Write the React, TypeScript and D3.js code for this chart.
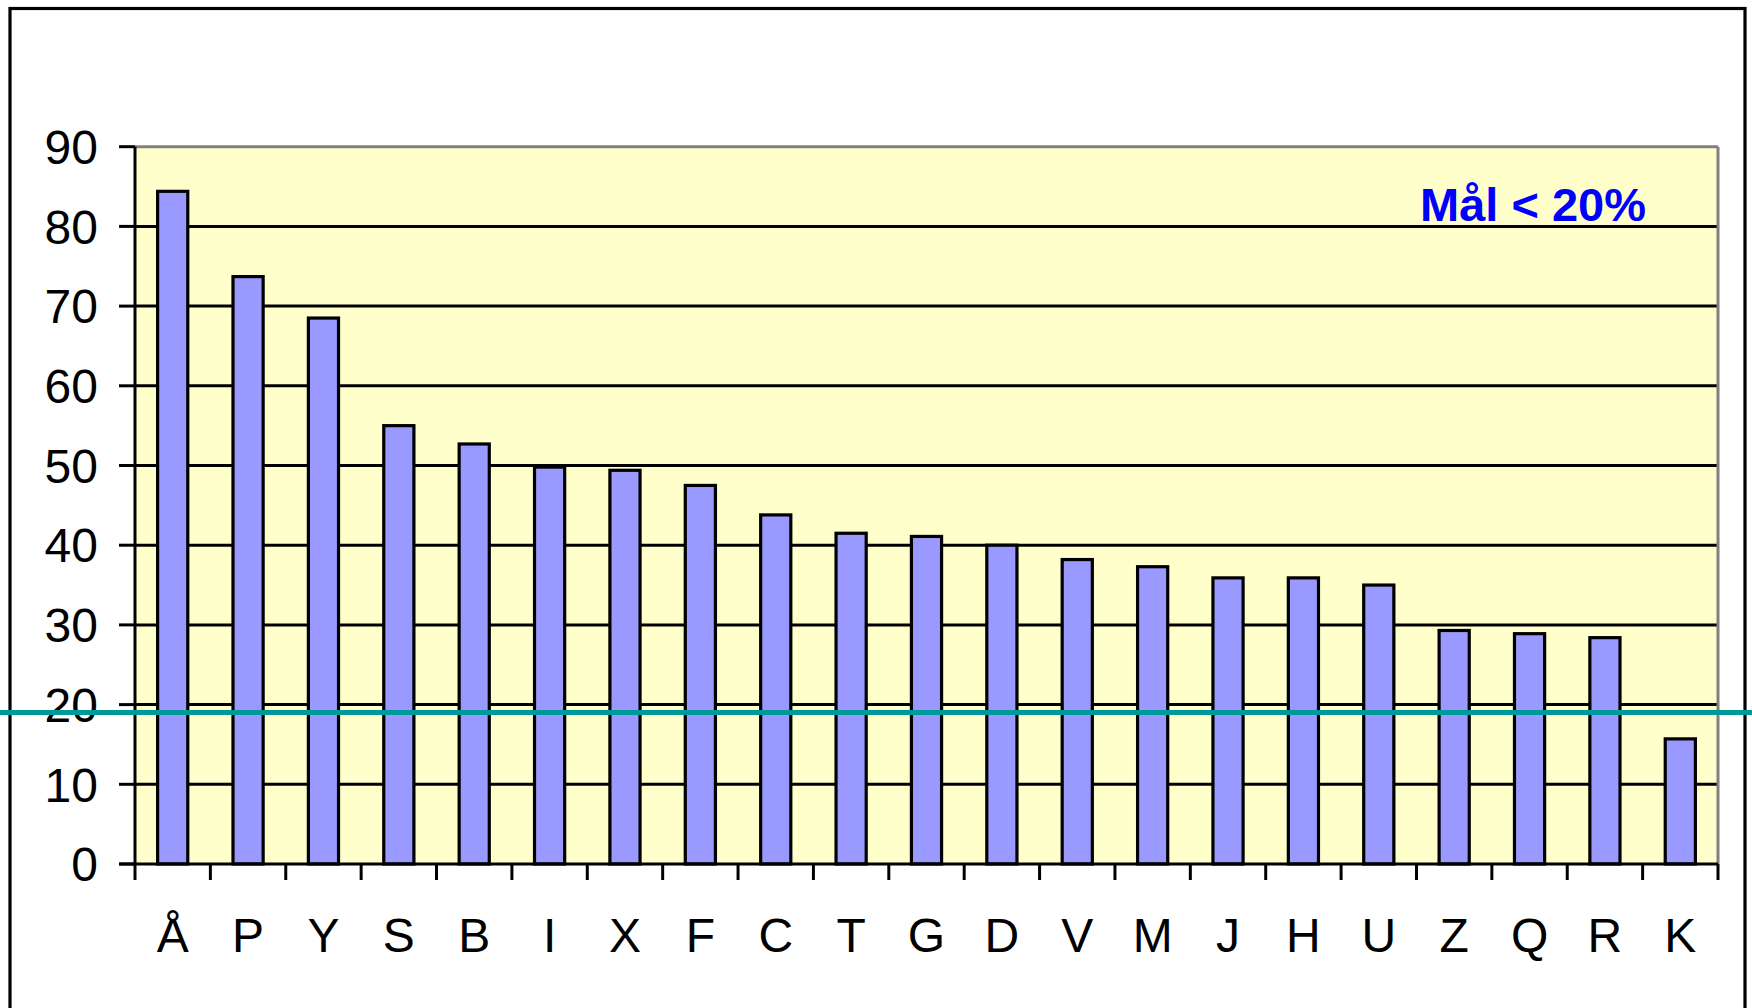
import React from 'react';
import * as d3 from 'd3';

// one value per unit, sorted high to low
const categories = ['Å', 'P', 'Y', 'S', 'B', 'I', 'X', 'F', 'C', 'T', 'G', 'D', 'V', 'M', 'J', 'H', 'U', 'Z', 'Q', 'R', 'K'];
const values = [84.4, 73.7, 68.5, 55.0, 52.7, 49.8, 49.4, 47.5, 43.8, 41.5, 41.1, 40.0, 38.2, 37.3, 35.9, 35.9, 35.0, 29.3, 28.9, 28.4, 15.7];
const yTicks = [0, 10, 20, 30, 40, 50, 60, 70, 80, 90];
const targetValue = 19;
const targetLabel = 'Mål < 20%';

const W = 1752;
const H = 1008;
const plot = { left: 135, right: 1718, top: 146.7, bottom: 864 };
const font = 'Arial, "Liberation Sans", Helvetica, sans-serif';

const App: React.FC = () => {
  const x = d3.scaleBand<string>()
    .domain(categories)
    .range([plot.left, plot.right])
    .paddingInner(0.6)
    .paddingOuter(0.3);

  const y = d3.scaleLinear()
    .domain([0, 90])
    .range([plot.bottom, plot.top]);

  const step = x.step();
  const edges = d3.range(categories.length + 1).map(i => plot.left + i * step);

  return (
    <svg width={W} height={H} style={{ position: 'absolute', left: 0, top: 0, background: '#fff' }}>
      {/* outer frame */}
      <rect x={10} y={8.5} width={1735} height={1020} fill="#fff" stroke="#000" strokeWidth={3.2} />

      {/* plot area */}
      <rect x={plot.left} y={plot.top} width={plot.right - plot.left} height={plot.bottom - plot.top} fill="#FFFFCC" />

      {/* gridlines */}
      {yTicks.filter(t => t > 0 && t < 90).map(t => (
        <line key={t} x1={plot.left} x2={plot.right} y1={y(t)} y2={y(t)} stroke="#000" strokeWidth={3} />
      ))}
      <line x1={plot.left} x2={plot.right} y1={y(90)} y2={y(90)} stroke="#808080" strokeWidth={3} />
      <line x1={plot.right} x2={plot.right} y1={plot.top} y2={plot.bottom} stroke="#808080" strokeWidth={3} />

      {/* bars */}
      {categories.map((c, i) => (
        <rect
          key={c}
          x={x(c)}
          y={y(values[i])}
          width={x.bandwidth()}
          height={y(0) - y(values[i])}
          fill="#9999FF"
          stroke="#000"
          strokeWidth={3.2}
        />
      ))}

      {/* axes */}
      <line x1={plot.left} x2={plot.left} y1={plot.top} y2={plot.bottom} stroke="#000" strokeWidth={3} />
      <line x1={plot.left - 16} x2={plot.right} y1={plot.bottom} y2={plot.bottom} stroke="#000" strokeWidth={3} />
      {yTicks.map(t => (
        <g key={t}>
          <line x1={plot.left - 16} x2={plot.left} y1={y(t)} y2={y(t)} stroke="#000" strokeWidth={3} />
          <text x={98} y={y(t)} dy="0.36em" textAnchor="end" fontFamily={font} fontSize={48} fill="#000">{t}</text>
        </g>
      ))}
      {edges.map((e, i) => (
        <line key={i} x1={e} x2={e} y1={plot.bottom} y2={plot.bottom + 16} stroke="#000" strokeWidth={3} />
      ))}
      {categories.map(c => (
        <text key={c} x={(x(c) ?? 0) + x.bandwidth() / 2} y={952} textAnchor="middle" fontFamily={font} fontSize={48} fill="#000">{c}</text>
      ))}

      {/* target line */}
      <line x1={0} x2={W} y1={y(targetValue)} y2={y(targetValue)} stroke="#009999" strokeWidth={5} />
      <text x={1533} y={221} textAnchor="middle" fontFamily={font} fontSize={47} fontWeight="bold" fill="#0000FF">{targetLabel}</text>
    </svg>
  );
};

export default App;
